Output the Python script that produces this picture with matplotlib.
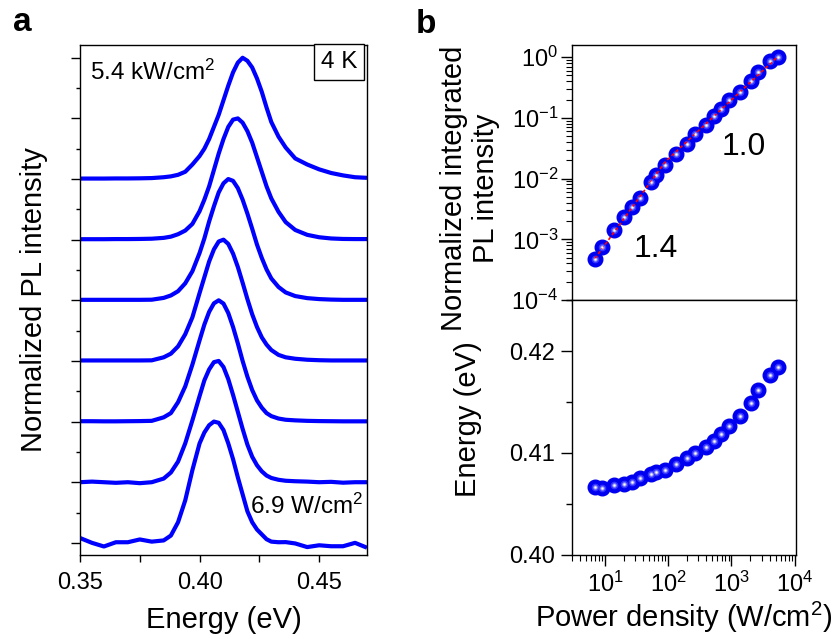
import numpy as np
import matplotlib
matplotlib.use('Agg')
import matplotlib.pyplot as plt
from matplotlib.ticker import MultipleLocator, LogLocator, NullFormatter, FormatStrFormatter

plt.rcParams['font.family'] = ['Liberation Sans', 'DejaVu Sans']
plt.rcParams['mathtext.fontset'] = 'custom'
plt.rcParams['mathtext.rm'] = 'Liberation Sans'
plt.rcParams['mathtext.it'] = 'Liberation Sans:italic'
plt.rcParams['mathtext.bf'] = 'Liberation Sans:bold'
plt.rcParams['axes.linewidth'] = 1.0

# (a) espectros de PL normalizados, do mais fraco (6.9 W/cm2) ao mais forte (5.4 kW/cm2)
energia = [0.350, 0.355, 0.360, 0.365, 0.370, 0.375, 0.380, 0.385, 0.388, 0.391,
           0.394, 0.397, 0.400, 0.402, 0.404, 0.406, 0.408, 0.410, 0.412, 0.414,
           0.416, 0.418, 0.420, 0.422, 0.424, 0.426, 0.428, 0.430, 0.433, 0.436,
           0.440, 0.445, 0.450, 0.455, 0.460, 0.465, 0.470]
esp_0 = [0.04, 0.0, -0.03, 0.005, 0.005, 0.028, 0.01, 0.02, 0.06, 0.17,
         0.35, 0.60, 0.82, 0.91, 0.97, 1.0, 0.99, 0.93, 0.82, 0.69,
         0.54, 0.40, 0.26, 0.17, 0.11, 0.07, 0.03, 0.01, 0.005, 0.006,
         -0.005, -0.035, -0.02, -0.028, -0.028, 0.0, -0.04]
esp_1 = [0.0, 0.005, 0.0, -0.005, 0.0, -0.008, 0.0, 0.03, 0.08, 0.17,
         0.32, 0.51, 0.71, 0.84, 0.93, 0.99, 1.0, 0.95, 0.85, 0.72,
         0.58, 0.44, 0.31, 0.21, 0.14, 0.09, 0.055, 0.035, 0.02, 0.012,
         0.008, 0.005, 0.0, 0.003, -0.004, 0.0, 0.0]
esp_2 = [0.003, 0.003, 0.002, 0.002, 0.003, 0.004, 0.006, 0.035, 0.07, 0.16,
         0.29, 0.47, 0.67, 0.80, 0.905, 0.975, 1.0, 0.973, 0.895, 0.78,
         0.645, 0.50, 0.37, 0.26, 0.175, 0.115, 0.07, 0.045, 0.025, 0.015,
         0.01, 0.006, 0.004, 0.003, 0.002, 0.002, 0.002]
esp_3 = [0.004, 0.004, 0.004, 0.004, 0.004, 0.004, 0.005, 0.03, 0.06, 0.12,
         0.22, 0.36, 0.56, 0.69, 0.82, 0.92, 0.985, 1.0, 0.965, 0.885,
         0.775, 0.645, 0.51, 0.385, 0.28, 0.195, 0.135, 0.09, 0.05, 0.03,
         0.018, 0.01, 0.006, 0.004, 0.004, 0.004, 0.004]
esp_4 = [0.004, 0.004, 0.004, 0.004, 0.004, 0.004, 0.005, 0.02, 0.04, 0.075,
         0.14, 0.24, 0.39, 0.51, 0.65, 0.775, 0.89, 0.965, 1.0, 0.985,
         0.925, 0.83, 0.715, 0.59, 0.46, 0.35, 0.255, 0.18, 0.11, 0.065,
         0.035, 0.018, 0.01, 0.006, 0.004, 0.004, 0.004]
esp_5 = [0.004, 0.004, 0.004, 0.005, 0.005, 0.006, 0.008, 0.015, 0.025, 0.045,
         0.075, 0.13, 0.235, 0.33, 0.44, 0.575, 0.71, 0.83, 0.93, 0.99,
         1.0, 0.965, 0.895, 0.80, 0.68, 0.56, 0.44, 0.34, 0.23, 0.145,
         0.08, 0.04, 0.02, 0.01, 0.006, 0.005, 0.005]
esp_6 = [0.004, 0.004, 0.004, 0.005, 0.005, 0.006, 0.008, 0.015, 0.022, 0.035,
         0.06, 0.12, 0.19, 0.25, 0.33, 0.43, 0.53, 0.65, 0.77, 0.88,
         0.96, 1.0, 0.975, 0.92, 0.83, 0.72, 0.59, 0.47, 0.35, 0.26,
         0.17, 0.12, 0.08, 0.05, 0.03, 0.015, 0.01]
espectros = [esp_0, esp_1, esp_2, esp_3, esp_4, esp_5, esp_6]

# (b) intensidade integrada e energia do pico vs densidade de potencia
potencia = [6.9, 8.9, 13.9, 20.2, 27, 35.7, 53, 64, 88.5, 132, 195, 264, 393,
            526, 693, 918, 1350, 2068, 2630, 4030, 5400]
intensidade = [4.8e-4, 7.5e-4, 1.42e-3, 2.34e-3, 3.42e-3, 4.87e-3, 8.8e-3, 1.13e-2,
               1.66e-2, 2.51e-2, 3.76e-2, 5.5e-2, 7.72e-2, 0.107, 0.1415, 0.194,
               0.266, 0.413, 0.567, 0.86, 1.0]
energia_pico = [0.4067, 0.4066, 0.40686, 0.4070, 0.4072, 0.4075, 0.4079, 0.4081,
                0.4083, 0.4089, 0.4095, 0.4100, 0.4106, 0.4112, 0.4119, 0.4126,
                0.4136, 0.4149, 0.4162, 0.4176, 0.4184]
ajuste_x = [6.9, 90, 5400]  # ajuste em lei de potencia: 1.4 e depois 1.0
ajuste_y = [4.8e-4, 1.9e-2, 1.02]

fig = plt.figure(figsize=(8.35, 6.39), dpi=100)
ax_a = fig.add_axes([0.0958, 0.1315, 0.3437, 0.798])
ax_b1 = fig.add_axes([0.685, 0.5305, 0.2683, 0.399])
ax_b2 = fig.add_axes([0.685, 0.1315, 0.2683, 0.399], sharex=ax_b1)

# painel a
for k, esp in enumerate(espectros):
    ax_a.plot(energia, k + 2 * np.array(esp), color='#0000ff', lw=3,
              solid_joinstyle='round', solid_capstyle='butt')
ax_a.set_xlim(0.35, 0.47)
ax_a.set_ylim(-0.2, 8.21)
ax_a.xaxis.set_major_locator(MultipleLocator(0.05))
ax_a.xaxis.set_minor_locator(MultipleLocator(0.025))
ax_a.xaxis.set_major_formatter(FormatStrFormatter('%.2f'))
ax_a.yaxis.set_major_locator(MultipleLocator(1))
ax_a.yaxis.set_minor_locator(MultipleLocator(0.5))
ax_a.tick_params(axis='y', which='major', direction='out', length=6.5, width=1, labelleft=False)
ax_a.tick_params(axis='y', which='minor', direction='out', length=3, width=1)
ax_a.tick_params(axis='x', which='both', direction='out', length=5, width=1,
                 labelsize=17, pad=7)
ax_a.set_xlabel('Energy (eV)', fontsize=21, labelpad=9)
ax_a.set_ylabel('Normalized PL intensity', fontsize=21)
ax_a.yaxis.set_label_coords(-0.11, 0.5)
ax_a.text(0.034, 0.931, r'5.4 kW/cm$^{2}$', transform=ax_a.transAxes, fontsize=17.5)
ax_a.text(0.986, 0.081, r'6.9 W/cm$^{2}$', transform=ax_a.transAxes, fontsize=17.5,
          ha='right')
ax_a.text(0.902, 0.967, '4 K', transform=ax_a.transAxes, fontsize=17.5,
          ha='center', va='center',
          bbox=dict(boxstyle='square,pad=0.28', fc='white', ec='black', lw=1))


def bolas(ax, x, y):
    # esfera azul com brilho no centro
    ax.plot(x, y, 'o', ms=10.5, color='#0000f0', mec='#0000f0', zorder=3)
    ax.plot(x, y, 'o', ms=5.5, color='#3535ff', mec='none', zorder=4)
    ax.plot(x, y, 'o', ms=3.2, color='#9a9aff', mec='none', zorder=4.2)
    ax.plot(x, y, 'o', ms=1.6, color='white', mec='none', zorder=5)


# painel b, em cima
bolas(ax_b1, potencia, intensidade)
ax_b1.plot(ajuste_x, ajuste_y, color='red', lw=1.2, ls=(0, (2, 1.5)), zorder=4.5)
ax_b1.set_xscale('log')
ax_b1.set_yscale('log')
ax_b1.set_xlim(3.0, 1.05e4)
ax_b1.set_ylim(1e-4, 10 ** 0.2)
ax_b1.yaxis.set_major_locator(LogLocator(base=10, numticks=10))
ax_b1.yaxis.set_minor_locator(LogLocator(base=10, subs=np.arange(2, 10), numticks=20))
ax_b1.yaxis.set_minor_formatter(NullFormatter())
ax_b1.tick_params(axis='y', which='major', direction='out', length=8, width=1,
                  labelsize=17, pad=2)
ax_b1.tick_params(axis='y', which='minor', direction='out', length=4, width=0.8)
ax_b1.tick_params(axis='x', which='major', direction='out', length=7, width=1,
                  labelbottom=False)
ax_b1.tick_params(axis='x', which='minor', direction='out', length=3.5, width=0.8)
ax_b1.set_ylabel('Normalized integrated\nPL intensity', fontsize=21,
                 multialignment='center', linespacing=1.2)
ax_b1.yaxis.set_label_coords(-0.32, 0.44)
ax_b1.text(0.668, 0.569, '1.0', transform=ax_b1.transAxes, fontsize=23)
ax_b1.text(0.274, 0.17, '1.4', transform=ax_b1.transAxes, fontsize=23)

# painel b, em baixo
bolas(ax_b2, potencia, energia_pico)
ax_b2.set_ylim(0.400, 0.425)
ax_b2.yaxis.set_major_locator(MultipleLocator(0.01))
ax_b2.yaxis.set_minor_locator(MultipleLocator(0.005))
ax_b2.yaxis.set_major_formatter(FormatStrFormatter('%.2f'))
ax_b2.xaxis.set_major_locator(LogLocator(base=10, numticks=10))
ax_b2.xaxis.set_minor_locator(LogLocator(base=10, subs=np.arange(2, 10), numticks=20))
ax_b2.xaxis.set_minor_formatter(NullFormatter())
ax_b2.tick_params(axis='y', which='major', direction='out', length=8, width=1,
                  labelsize=17, pad=4)
ax_b2.tick_params(axis='y', which='minor', direction='out', length=4, width=1)
ax_b2.tick_params(axis='x', which='major', direction='out', length=8, width=1,
                  labelsize=17, pad=4)
ax_b2.tick_params(axis='x', which='minor', direction='out', length=4, width=0.8)
ax_b2.set_xlabel('Power density (W/cm$^{2}$)', fontsize=21, labelpad=2)
ax_b2.set_ylabel('Energy (eV)', fontsize=21)
ax_b2.yaxis.set_label_coords(-0.40, 0.533)

fig.text(0.0156, 0.951, 'a', fontsize=24, fontweight='bold')
fig.text(0.498, 0.948, 'b', fontsize=24, fontweight='bold')

fig.savefig('out.png', dpi=100)
